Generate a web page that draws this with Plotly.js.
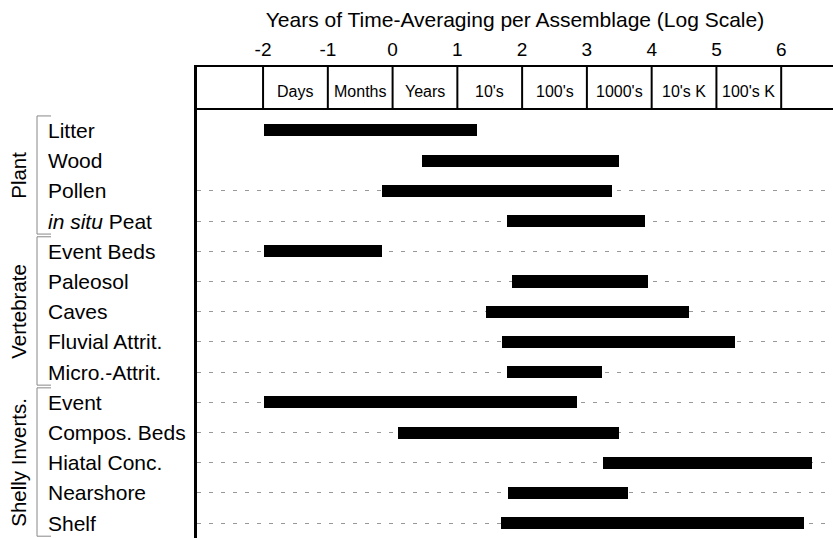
<!DOCTYPE html>
<html>
<head>
<meta charset="utf-8">
<script src="https://cdn.plot.ly/plotly-3.0.1.min.js"></script>
<style>html,body{margin:0;padding:0;background:#fff;}#chart{width:833px;height:538px;}</style>
</head>
<body>
<div id="chart"></div>
<script>
// ---- data ----
const categories = ["Litter","Wood","Pollen","<i>in situ</i> Peat","Event Beds","Paleosol","Caves","Fluvial Attrit.","Micro.-Attrit.","Event","Compos. Beds","Hiatal Conc.","Nearshore","Shelf"];
const startLog = [-1.98, 0.45, -0.17, 1.76, -1.98, 1.84, 1.44, 1.69, 1.76, -1.98, 0.08, 3.25, 1.78, 1.67];
const endLog   = [1.30, 3.50, 3.39, 3.90, -0.16, 3.95, 4.57, 5.28, 3.24, 2.85, 3.50, 6.48, 3.63, 6.35];
const groups = ["Plant","Vertebrate","Shelly Inverts."];
const groupFirst = [0, 4, 9];
const groupLast  = [3, 8, 13];
const tickValues = [-2,-1,0,1,2,3,4,5,6];
const tickLabels = ["-2","-1","0","1","2","3","4","5","6"];
const headerLabels = ["Days","Months","Years","10's","100's","1000's","10's K","100's K"];
const headerStarts = [-2,-1,0,1,2,3,4,5];
const gridRows = [2,3,4,5,6,7,8,9,10,11,12,13];

const FONT = "Liberation Sans, Arial, Helvetica, sans-serif";
const yIdx = categories.map((c,i)=>i);

const trace = {
  type: "bar",
  orientation: "h",
  y: yIdx,
  base: startLog,
  x: endLog.map((e,i)=>e-startLog[i]),
  width: 0.4,
  marker: {color: "#000", line: {width: 0}},
  hoverinfo: "skip"
};

const shapes = [];
const annotations = [];
const headerY = 0.9108;
shapes.push({type:"line", xref:"paper", yref:"paper", x0:0, x1:1, y0:headerY, y1:headerY, line:{color:"#000", width:2}});
tickValues.forEach(v=>{
  shapes.push({type:"line", xref:"x", yref:"paper", x0:v, x1:v, y0:headerY, y1:1, line:{color:"#000", width:2}});
});
headerLabels.forEach((t,i)=>{
  annotations.push({xref:"x", yref:"paper", x:headerStarts[i]+0.5, y:(538-91)/471, text:t, showarrow:false,
    xanchor:"center", yanchor:"middle", font:{family:FONT, size:16, color:"#000"}});
});
categories.forEach((c,i)=>{
  annotations.push({xref:"paper", yref:"y", x:(46-197)/636, y:i, text:c, showarrow:false,
    xanchor:"left", yanchor:"middle", font:{family:FONT, size:21, color:"#000"}});
});
const bx = (37-197)/636, bx2 = (51-197)/636;
groups.forEach((g,k)=>{
  const y0 = groupFirst[k]-0.48, y1 = groupLast[k]+0.43;
  shapes.push({type:"line", xref:"paper", yref:"y", x0:bx, x1:bx, y0:y0, y1:y1, line:{color:"#888", width:1}});
  shapes.push({type:"line", xref:"paper", yref:"y", x0:bx, x1:bx2, y0:y0, y1:y0, line:{color:"#888", width:1}});
  shapes.push({type:"line", xref:"paper", yref:"y", x0:bx, x1:bx2, y0:y1, y1:y1, line:{color:"#888", width:1}});
  annotations.push({xref:"paper", yref:"y", x:(19-197)/636, y:(groupFirst[k]+groupLast[k])/2, text:g, showarrow:false,
    textangle:-90, xanchor:"center", yanchor:"middle", font:{family:FONT, size:20.5, color:"#000"}});
});

const layout = {
  width: 833, height: 538,
  margin: {l:197, r:0, t:67, b:0, pad:0},
  paper_bgcolor: "#fff", plot_bgcolor: "#fff",
  showlegend: false,
  title: {text:"Years of Time-Averaging per Assemblage (Log Scale)", x:0.5, xref:"paper", xanchor:"center",
    y:1-20/538, yref:"container", yanchor:"middle", font:{family:FONT, size:21, color:"#000"}},
  xaxis: {side:"top", range:[-3.02, 6.80], tickvals:tickValues, ticktext:tickLabels, ticks:"",
    showgrid:false, zeroline:false, showline:true, linecolor:"#000", linewidth:2,
    ticklabelstandoff:1, tickfont:{family:FONT, size:19, color:"#000"}, fixedrange:true},
  yaxis: {type:"linear", range:[13.49, -2.10], showticklabels:false, ticks:"", zeroline:false,
    showline:true, linecolor:"#000", linewidth:3,
    tickvals: gridRows, showgrid:true, gridcolor:"#999", gridwidth:1, griddash:"4px,8px", fixedrange:true},
  shapes: shapes,
  annotations: annotations,
  bargap: 0
};

Plotly.newPlot("chart", [trace], layout, {displayModeBar:false, staticPlot:true});
</script>
</body>
</html>
